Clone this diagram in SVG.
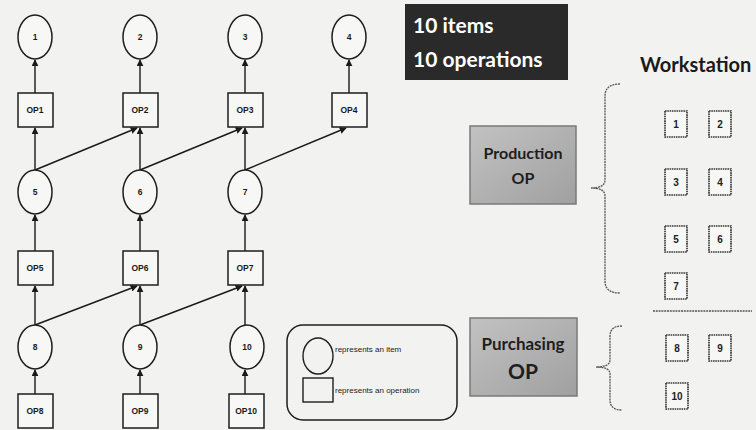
<svg xmlns="http://www.w3.org/2000/svg" width="756" height="430" viewBox="0 0 756 430">
<defs>
<marker id="ah" viewBox="0 0 10 10" refX="9" refY="5" markerWidth="5" markerHeight="5" orient="auto">
<path d="M0,0 L10,5 L0,10 z" fill="#1a1a1a"/>
</marker>
<linearGradient id="gbox" x1="0" y1="0" x2="1" y2="1">
<stop offset="0" stop-color="#c2c2c2"/>
<stop offset="1" stop-color="#a0a0a0"/>
</linearGradient>
<style>
.it{fill:#f7f7f5;stroke:#1e1e1e;stroke-width:1.5}
.op{fill:#f7f7f5;stroke:#1e1e1e;stroke-width:1.5}
.lb{font-family:"Liberation Sans",Arial,sans-serif;font-size:8.5px;font-weight:bold;fill:#1a1a1a;text-anchor:middle}
.cn line{stroke:#1a1a1a;stroke-width:1.4;marker-end:url(#ah)}
.ws rect{fill:#f7f7f5;stroke:#3a3a3a;stroke-width:1.7;stroke-dasharray:1.6 0.7}
.ws text{font-family:"Liberation Sans",Arial,sans-serif;font-size:10px;font-weight:bold;fill:#222;text-anchor:middle}
.gb{fill:url(#gbox);stroke:#7a7a7a;stroke-width:1.5}
.gt{font-family:Lato,"Open Sans",sans-serif;font-weight:bold;fill:#1e1e1e;text-anchor:middle}
.br{fill:none;stroke:#555;stroke-width:1.3;stroke-dasharray:2 0.8}
.lg{font-family:"Liberation Sans",Arial,sans-serif;font-size:8px;fill:#222}
</style>
</defs>
<rect width="756" height="430" fill="#f2f2f0"/>

<g id="connectors" class="cn">
<line x1="35" y1="93" x2="35" y2="60"/>
<line x1="140" y1="93" x2="140" y2="60"/>
<line x1="245" y1="93" x2="245" y2="60"/>
<line x1="349" y1="93" x2="349" y2="60"/>
<line x1="35" y1="170" x2="35" y2="128"/>
<line x1="140" y1="170" x2="140" y2="128"/>
<line x1="245" y1="170" x2="245" y2="128"/>
<line x1="35" y1="170" x2="137" y2="128"/>
<line x1="140" y1="170" x2="242" y2="128"/>
<line x1="245" y1="170" x2="346" y2="128"/>
<line x1="35" y1="251" x2="35" y2="215"/>
<line x1="140" y1="251" x2="140" y2="215"/>
<line x1="245" y1="251" x2="245" y2="215"/>
<line x1="35" y1="325" x2="35" y2="286"/>
<line x1="140" y1="325" x2="140" y2="286"/>
<line x1="245" y1="325" x2="245" y2="286"/>
<line x1="35" y1="325" x2="137" y2="286"/>
<line x1="140" y1="325" x2="242" y2="286"/>
<line x1="35" y1="394" x2="35" y2="370"/>
<line x1="140" y1="394" x2="140" y2="370"/>
<line x1="245" y1="394" x2="245" y2="370"/>
</g>

<g id="item1"><ellipse class="it" cx="35" cy="37" rx="17" ry="22"/><text class="lb" x="35" y="40">1</text></g>
<g id="item2"><ellipse class="it" cx="140" cy="37" rx="17" ry="22"/><text class="lb" x="140" y="40">2</text></g>
<g id="item3"><ellipse class="it" cx="245" cy="37" rx="17" ry="22"/><text class="lb" x="245" y="40">3</text></g>
<g id="item4"><ellipse class="it" cx="349" cy="37" rx="17" ry="22"/><text class="lb" x="349" y="40">4</text></g>
<g id="item5"><ellipse class="it" cx="35" cy="192" rx="17" ry="22"/><text class="lb" x="35" y="195">5</text></g>
<g id="item6"><ellipse class="it" cx="140" cy="192" rx="17" ry="22"/><text class="lb" x="140" y="195">6</text></g>
<g id="item7"><ellipse class="it" cx="245" cy="192" rx="17" ry="22"/><text class="lb" x="245" y="195">7</text></g>
<g id="item8"><ellipse class="it" cx="35" cy="347" rx="17" ry="22"/><text class="lb" x="35" y="350">8</text></g>
<g id="item9"><ellipse class="it" cx="140" cy="347" rx="17" ry="22"/><text class="lb" x="140" y="350">9</text></g>
<g id="item10"><ellipse class="it" cx="247" cy="347" rx="17" ry="22"/><text class="lb" x="247" y="350">10</text></g>

<g id="op1"><rect class="op" x="18" y="93" width="35" height="34"/><text class="lb" x="35" y="113">OP1</text></g>
<g id="op2"><rect class="op" x="123" y="93" width="35" height="34"/><text class="lb" x="140" y="113">OP2</text></g>
<g id="op3"><rect class="op" x="228" y="93" width="35" height="34"/><text class="lb" x="245" y="113">OP3</text></g>
<g id="op4"><rect class="op" x="332" y="93" width="35" height="34"/><text class="lb" x="349" y="113">OP4</text></g>
<g id="op5"><rect class="op" x="18" y="251" width="35" height="34"/><text class="lb" x="35" y="271">OP5</text></g>
<g id="op6"><rect class="op" x="123" y="251" width="35" height="34"/><text class="lb" x="140" y="271">OP6</text></g>
<g id="op7"><rect class="op" x="228" y="251" width="35" height="34"/><text class="lb" x="245" y="271">OP7</text></g>
<g id="op8"><rect class="op" x="18" y="394" width="35" height="34"/><text class="lb" x="35" y="414">OP8</text></g>
<g id="op9"><rect class="op" x="123" y="394" width="35" height="34"/><text class="lb" x="140" y="414">OP9</text></g>
<g id="op10"><rect class="op" x="229" y="394" width="35" height="34"/><text class="lb" x="246" y="414">OP10</text></g>

<g id="legend">
<rect x="287" y="325" width="170" height="95" rx="16" fill="none" stroke="#1e1e1e" stroke-width="1.5"/>
<ellipse cx="318" cy="356" rx="15" ry="18" fill="none" stroke="#1e1e1e" stroke-width="1.4"/>
<text class="lg" x="335" y="352">represents an item</text>
<rect x="303" y="378" width="30" height="24" fill="none" stroke="#1e1e1e" stroke-width="1.4"/>
<text class="lg" x="335" y="393">represents an operation</text>
</g>

<g id="summary">
<rect x="405" y="4" width="163" height="76" fill="#2a2a2a"/>
<text x="413" y="33" font-family="Lato,'Open Sans',sans-serif" font-size="21" font-weight="bold" fill="#ffffff">10 items</text>
<text x="413" y="67" font-family="Lato,'Open Sans',sans-serif" font-size="21" font-weight="bold" fill="#ffffff">10 operations</text>
</g>

<g id="workstation-title">
<text x="640" y="72" font-family="Lato,'Open Sans',sans-serif" font-size="20" font-weight="bold" fill="#1a1a1a">Workstation</text>
</g>

<g id="production">
<rect class="gb" x="470" y="126" width="106" height="78"/>
<text class="gt" x="523" y="159" font-size="16">Production</text>
<text class="gt" x="523" y="184" font-size="16">OP</text>
<path class="br" d="M620 84 Q605 84 605 96 L605 180 Q605 188 591 188 Q605 188 605 196 L605 281 Q605 293 620 293"/>
</g>

<g id="purchasing">
<rect class="gb" x="470" y="318" width="107" height="78"/>
<text class="gt" x="523" y="350" font-size="17">Purchasing</text>
<text class="gt" x="523" y="379" font-size="21">OP</text>
<path class="br" d="M622 326 Q610 326 610 336 L610 360 Q610 367 596 367 Q610 367 610 374 L610 400 Q610 410 622 410"/>
</g>

<g id="ws" class="ws">
<g id="ws1"><rect x="665" y="111" width="22" height="26"/><text x="676" y="128">1</text></g>
<g id="ws2"><rect x="709" y="111" width="22" height="26"/><text x="720" y="128">2</text></g>
<g id="ws3"><rect x="665" y="169" width="22" height="26"/><text x="676" y="186">3</text></g>
<g id="ws4"><rect x="709" y="169" width="22" height="26"/><text x="720" y="186">4</text></g>
<g id="ws5"><rect x="665" y="226" width="22" height="26"/><text x="676" y="243">5</text></g>
<g id="ws6"><rect x="709" y="226" width="22" height="26"/><text x="720" y="243">6</text></g>
<g id="ws7"><rect x="665" y="273" width="22" height="26"/><text x="676" y="290">7</text></g>
<g id="ws8"><rect x="666" y="335" width="22" height="26"/><text x="677" y="352">8</text></g>
<g id="ws9"><rect x="709" y="335" width="22" height="26"/><text x="720" y="352">9</text></g>
<g id="ws10"><rect x="666" y="383" width="22" height="26"/><text x="677" y="400">10</text></g>
</g>
<line x1="653" y1="311" x2="752" y2="311" stroke="#555" stroke-width="1.3" stroke-dasharray="2 0.8"/>
</svg>
